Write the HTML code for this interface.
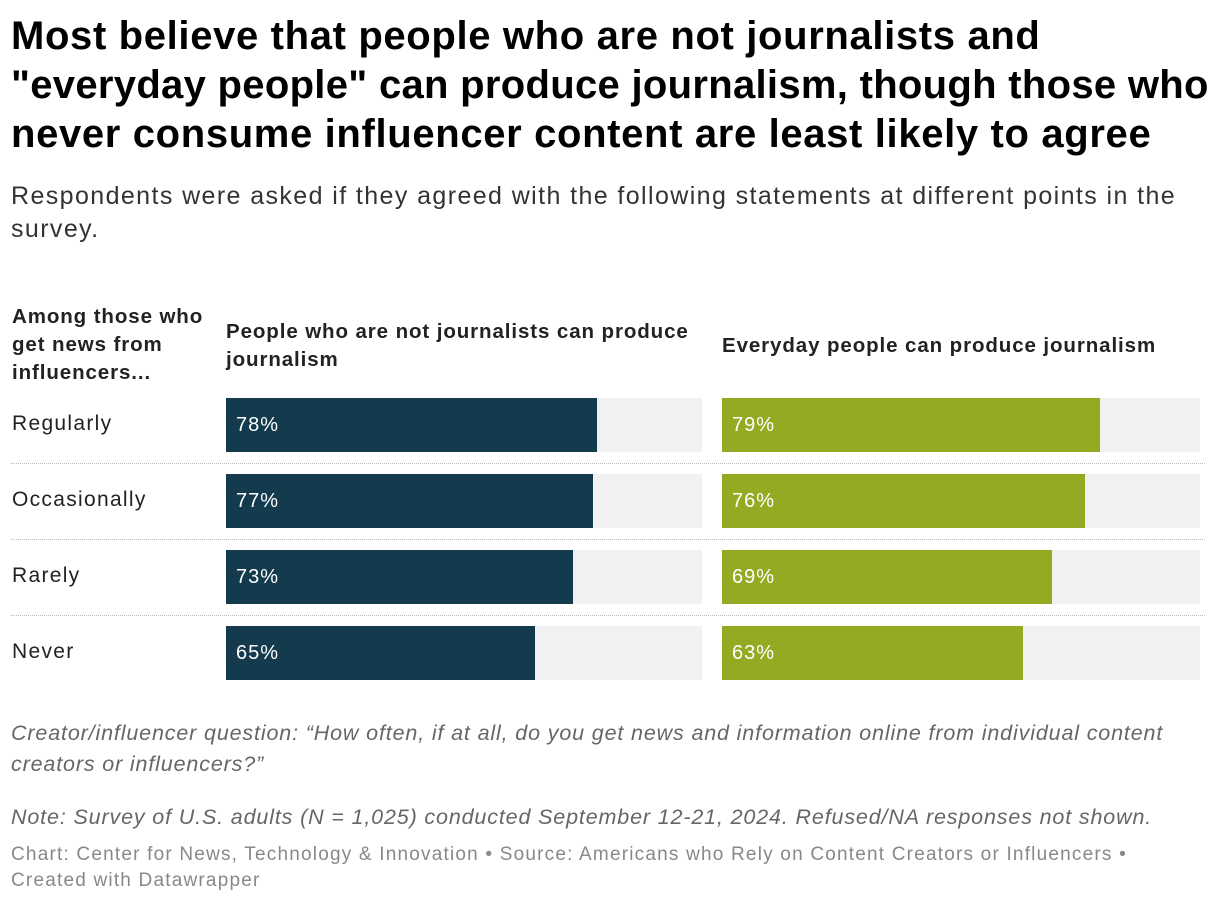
<!DOCTYPE html>
<html><head><meta charset="utf-8"><style>
body{margin:0;width:1220px;height:906px;background:#fff;font-family:"Liberation Sans",Arial,sans-serif;color:#000;position:relative;overflow:hidden}
.t{position:absolute;left:11px;top:12px;font-size:40px;font-weight:bold;line-height:49px;letter-spacing:0.65px;white-space:nowrap}
.s{position:absolute;left:11px;top:180px;font-size:25px;line-height:33px;color:#333;letter-spacing:1.4px;white-space:nowrap}
.h{position:absolute;font-weight:bold;font-size:20.5px;line-height:28px;color:#222;letter-spacing:0.9px;white-space:nowrap}
.lab{position:absolute;left:12px;font-size:21px;color:#222;letter-spacing:1.3px}
.bg{position:absolute;background:#f1f1f1;height:54px}
.bar{position:absolute;height:54px}
.val{position:absolute;color:#fff;font-size:20px;line-height:54px;letter-spacing:1px}
.sep{position:absolute;left:11px;width:1194px;border-top:1px dotted #bbb}
.n{position:absolute;left:11px;font-size:21.5px;font-style:italic;color:#666;line-height:31px;letter-spacing:0.85px;white-space:nowrap}
.f{position:absolute;left:11px;font-size:19px;color:#888;line-height:26px;letter-spacing:1.2px;white-space:nowrap}
</style></head><body>
<div class="t">Most believe that people who are not journalists and<br><span style="letter-spacing:0.3px">"everyday people" can produce journalism, though those who</span><br>never consume influencer content are least likely to agree</div>
<div class="s">Respondents were asked if they agreed with the following statements at different points in the<br>survey.</div>
<div class="h" style="left:12px;top:303px">Among those who<br>get news from<br>influencers...</div>
<div class="h" style="left:226px;top:318px">People who are not journalists can produce<br>journalism</div>
<div class="h" style="left:722px;top:332px">Everyday people can produce journalism</div>
<div id="chart"></div>
<div class="n" style="top:718px">Creator/influencer question: “How often, if at all, do you get news and information online from individual content<br>creators or influencers?”</div>
<div class="n" style="top:802px">Note: Survey of U.S. adults (N = 1,025) conducted September 12-21, 2024. Refused/NA responses not shown.</div>
<div class="f" style="top:842px">Chart: Center for News, Technology &amp; Innovation • Source: Americans who Rely on Content Creators or Influencers •<br>Created with Datawrapper</div>
<script>
const categories=["Regularly","Occasionally","Rarely","Never"];
const seriesNotJournalists=[78,77,73,65];
const seriesEveryday=[79,76,69,63];
const root=document.getElementById('chart');
const colX=[226,722],colW=[476,478],colors=["#133a4d","#93ab23"];
const rowY=i=>398+i*76;
const xs=(v,c)=>v/100*colW[c];
function mk(cls,st){const d=document.createElement('div');d.className=cls;Object.assign(d.style,st);root.appendChild(d);return d;}
categories.forEach((cat,i)=>{
  const y=rowY(i);
  const l=mk('lab',{top:(y+14)+'px'});l.textContent=cat;
  
  
  if(i>0){const s=mk('sep',{top:(y-11)+'px'});
    
    }
  [seriesNotJournalists,seriesEveryday].forEach((ser,c)=>{
    const b=mk('bg',{left:colX[c]+'px',top:y+'px',width:colW[c]+'px'});
    
    
    const r=mk('bar',{left:colX[c]+'px',top:y+'px',width:xs(ser[i],c)+'px',background:colors[c]});
    
    
    const v=mk('val',{left:(colX[c]+10)+'px',top:y+'px'});v.textContent=ser[i]+'%';
    
    
  });
});
</script>
</body></html>
